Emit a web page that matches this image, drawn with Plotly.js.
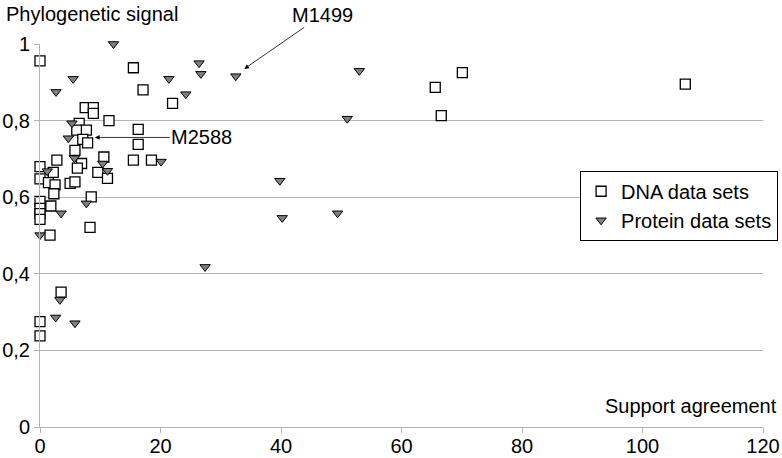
<!DOCTYPE html>
<html>
<head>
<meta charset="utf-8">
<script src="https://cdn.plot.ly/plotly-3.0.1.min.js"></script>
<style>
  html, body { margin: 0; padding: 0; background: #fff; }
  #graph { width: 782px; height: 458px; }
</style>
</head>
<body>
<div id="graph"></div>
<script>
// DNA data sets (open squares)
var dnaX = [0, 15.5, 17.1, 22.0, 7.5, 8.85, 8.85, 11.45, 6.5, 16.3,
            6.1, 7.7, 7.1, 7.9, 16.3, 5.8, 10.6, 2.8, 15.5, 18.5,
            6.9, 0, 6.2, 2.2, 9.6, 11.2, 0, 1.4, 2.5, 5.0,
            5.8, 2.3, 8.5, 0, 0, 0, 0, 1.8, 8.3, 1.66,
            3.5, 0, 0, 65.6, 70.1, 66.6, 107.1];
var dnaY = [0.956, 0.938, 0.88, 0.845, 0.834, 0.834, 0.819, 0.80, 0.793, 0.777,
            0.775, 0.775, 0.751, 0.742, 0.738, 0.722, 0.705, 0.697, 0.697, 0.697,
            0.688, 0.68, 0.676, 0.665, 0.665, 0.649, 0.648, 0.638, 0.632, 0.636,
            0.640, 0.609, 0.601, 0.589, 0.571, 0.557, 0.542, 0.577, 0.521, 0.501,
            0.352, 0.275, 0.238, 0.887, 0.925, 0.813, 0.895];

// Protein data sets (grey triangles)
var protX = [12.2, 5.5, 21.4, 2.66, 26.4, 26.7, 32.5, 24.2, 53.0, 51.0,
             5.3, 4.7, 5.7, 10.4, 1.2, 11.2, 20.1, 7.7, 3.5, 0,
             3.3, 2.6, 5.8, 39.8, 40.2, 49.4, 27.4];
var protY = [1.0, 0.909, 0.909, 0.875, 0.95, 0.922, 0.916, 0.869, 0.93, 0.805,
             0.793, 0.754, 0.702, 0.688, 0.668, 0.669, 0.693, 0.584, 0.558, 0.501,
             0.332, 0.286, 0.271, 0.643, 0.546, 0.558, 0.418];

var yTickVals = [0, 0.2, 0.4, 0.6, 0.8, 1];
var yTickText = ['0', '0,2', '0,4', '0,6', '0,8', '1'];

var FONT = 'Liberation Sans, Arial, sans-serif';

var dna = {
    x: dnaX,
    y: dnaY,
    name: 'DNA data sets',
    type: 'scatter',
    mode: 'markers',
    cliponaxis: false,
    marker: {
        symbol: 'square',
        size: 10,
        color: '#ffffff',
        line: { color: '#000000', width: 1.3 }
    }
};

var protein = {
    x: protX,
    y: protY,
    name: 'Protein data sets',
    type: 'scatter',
    mode: 'markers',
    cliponaxis: false,
    marker: {
        symbol: 'triangle-down',
        size: 9,
        color: '#808080',
        line: { color: '#000000', width: 1 }
    }
};

var layout = {
    width: 782,
    height: 458,
    paper_bgcolor: '#ffffff',
    plot_bgcolor: '#ffffff',
    font: { family: FONT, size: 20, color: '#000000' },
    margin: { l: 40, r: 19, t: 44, b: 31, pad: 0, autoexpand: false },
    showlegend: true,
    legend: {
        x: 0.747,
        y: 0.669,
        xanchor: 'left',
        yanchor: 'top',
        bordercolor: '#000000',
        borderwidth: 1,
        bgcolor: '#ffffff',
        font: { family: FONT, size: 20 },
        itemwidth: 30,
        tracegroupgap: 0
    },
    xaxis: {
        range: [0, 120],
        autorange: false,
        automargin: false,
        tickvals: [0, 20, 40, 60, 80, 100, 120],
        showgrid: false,
        zeroline: false,
        showline: true,
        linecolor: '#b3b3b3',
        linewidth: 1,
        ticks: 'outside',
        ticklen: 5,
        tickcolor: '#b3b3b3',
        ticklabelstandoff: -4,
        tickfont: { family: FONT, size: 20 }
    },
    yaxis: {
        range: [0, 1],
        autorange: false,
        automargin: false,
        tickvals: yTickVals,
        ticktext: yTickText,
        showgrid: true,
        gridcolor: '#b3b3b3',
        gridwidth: 1,
        zeroline: false,
        showline: true,
        linecolor: '#b3b3b3',
        linewidth: 1,
        ticks: 'outside',
        ticklen: 5,
        tickcolor: '#b3b3b3',
        tickfont: { family: FONT, size: 20 }
    },
    annotations: [
        {
            text: 'Phylogenetic signal',
            xref: 'paper', yref: 'paper',
            x: -36 / 723, y: 1 + 30 / 383,
            xanchor: 'left', yanchor: 'middle',
            showarrow: false,
            font: { family: FONT, size: 20 }
        },
        {
            text: 'Support agreement',
            xref: 'paper', yref: 'paper',
            x: 1 + 16 / 723, y: 21 / 383,
            xanchor: 'right', yanchor: 'middle',
            showarrow: false,
            font: { family: FONT, size: 20 }
        },
        {
            text: 'M1499',
            x: 33.9, y: 0.935,
            xref: 'x', yref: 'y',
            showarrow: true,
            ax: 78, ay: -54,
            arrowhead: 2,
            arrowsize: 1.2,
            arrowwidth: 0.8,
            arrowcolor: '#000000',
            font: { family: FONT, size: 20 }
        },
        {
            text: 'M2588',
            x: 9.1, y: 0.756,
            xref: 'x', yref: 'y',
            showarrow: true,
            ax: 107, ay: 0,
            arrowhead: 2,
            arrowsize: 1.2,
            arrowwidth: 0.8,
            arrowcolor: '#000000',
            font: { family: FONT, size: 20 }
        }
    ]
};

var graph = document.getElementById('graph');
Plotly.newPlot(graph, [dna, protein], layout, { staticPlot: true });
</script>
</body>
</html>
